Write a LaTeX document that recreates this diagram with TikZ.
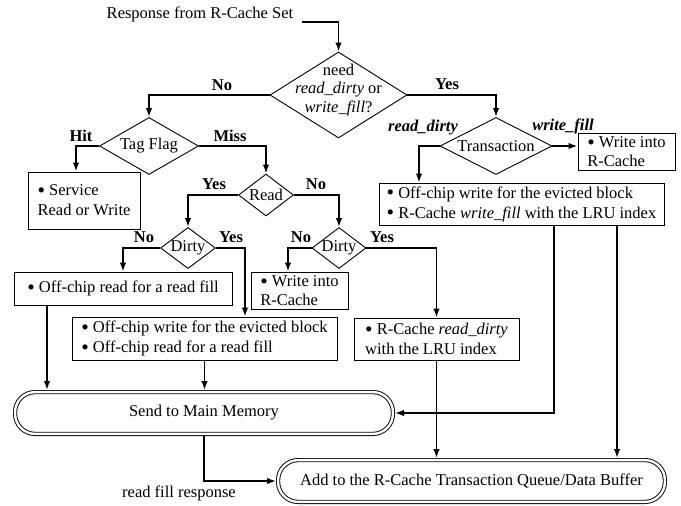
\documentclass[tikz,border=0pt]{standalone}
\usepackage{fontspec}
\setmainfont{Liberation Serif}
\usetikzlibrary{shapes.geometric,arrows.meta,calc}
\newcommand{\bul}{\raisebox{-0.09em}{\scalebox{1.3}{\textbullet}}\ }
\begin{document}
\begin{tikzpicture}[x=1pt,y=-1pt,
  every node/.style={font=\fontsize{16.5}{19}\selectfont, inner sep=0pt},
  dia/.style={draw, diamond, line width=0.9pt, inner sep=0pt},
  box/.style={draw, rectangle, line width=1pt, align=left, font=\fontsize{16.5}{20}\selectfont},
  term/.style={draw, rectangle, rounded corners=20pt, double, line width=0.9pt, double distance=2.4pt, outer sep=2.1pt},
  arr/.style={line width=1.6pt, -{Latex[length=9pt,width=6.5pt]}},
  lbl/.style={font=\fontsize{16.5}{19}\selectfont\bfseries},
  ilbl/.style={font=\fontsize{16.5}{19}\selectfont\bfseries\itshape},
]
\useasboundingbox (0,0) rectangle (681,506);

% text and decisions
\node (resp) at (200,14) {Response from R-Cache Set};
\coordinate (rs) at (302,22);
\node[dia, minimum width=137pt, minimum height=86pt] (d1) at (338.5,95) {};
\node[align=center, font=\fontsize{16.5}{18.5}\selectfont] (d1t) at (338.5,90) {need\\\textit{read\_dirty} or\\\textit{write\_fill}?};
\node[dia, minimum width=99pt, minimum height=57pt] (d2) at (149,146) {};
\node (d2t) at (d2) {Tag Flag};
\node[dia, minimum width=112pt, minimum height=57pt] (d3) at (496,146) {};
\node (d3t) at (d3) {Transaction};
\node[dia, minimum width=55pt, minimum height=42pt] (d4) at (266,195) {};
\node (d4t) at (d4) {Read};
\node[dia, minimum width=55pt, minimum height=41pt] (d5) at (188,248) {};
\node (d5t) at (d5) {Dirty};
\node[dia, minimum width=54pt, minimum height=41pt] (d6) at (339,248) {};
\node (d6t) at (d6) {Dirty};

% boxes
\node[box, minimum width=112pt, minimum height=57pt] (b1) at (84,200.5) {\bul Service\\Read or Write};
\node[box, minimum width=218pt, minimum height=33pt] (b2) at (123,288.5) {\bul Off-chip read for a read fill};
\node[box, minimum width=97pt, minimum height=37pt, font=\fontsize{16.5}{18.5}\selectfont] (b3) at (299.5,290.5) {\bul Write into\\R-Cache};
\node[box, minimum width=265pt, minimum height=43pt] (b4) at (204.5,338.5) {\bul Off-chip write for the evicted block\\\bul Off-chip read for a read fill};
\node[box, minimum width=165pt, minimum height=42pt] (b5) at (436.5,339) {\bul R-Cache \textit{read\_dirty}\\with the LRU index};
\node[box, minimum width=285pt, minimum height=42pt] (b6) at (521.5,204) {\bul Off-chip write for the evicted block\\\bul R-Cache \textit{write\_fill} with the LRU index};
\node[box, minimum width=97pt, minimum height=37pt, font=\fontsize{16.5}{18.5}\selectfont] (b7) at (626.5,151.5) {\bul Write into\\R-Cache};
\node[term, minimum width=377.8pt, minimum height=41.8pt] (s1) at (204,413) {Send to Main Memory};
\node[term, minimum width=386.8pt, minimum height=41.8pt] (s2) at (471.5,481) {Add to the R-Cache Transaction Queue/Data Buffer};
\node (rfr) at (179,493) {read fill response};

% labels
\node[lbl] (lno1) at (222,85) {No};
\node[lbl] (lyes1) at (447,84) {Yes};
\node[lbl] (lhit) at (81,136) {Hit};
\node[lbl] (lmiss) at (230,136) {Miss};
\node[ilbl] (lrd) at (423,128) {read\_dirty};
\node[ilbl] (lwf) at (563,126) {write\_fill};
\node[lbl] (lyes2) at (214,184) {Yes};
\node[lbl] (lno2) at (316,184) {No};
\node[lbl] (lno3) at (144,237) {No};
\node[lbl] (lyes3) at (231,237) {Yes};
\node[lbl] (lno4) at (301,237) {No};
\node[lbl] (lyes4) at (382,237) {Yes};

% connectors
\draw[arr] (rs) -| (d1.north);
\draw[arr] (d1.west) -| (d2.north);
\draw[arr] (d1.east) -| (d3.north);
\draw[arr] (d2.west) -| ([xshift=-8pt]b1.north);
\draw[arr] (d2.east) -| (d4.north);
\draw[arr] (d3.west) -| ([xshift=-102.5pt]b6.north);
\draw[arr] (d3.east) -- (d3.east -| b7.west);
\draw[arr] (d4.west) -| (d5.north);
\draw[arr] (d4.east) -| (d6.north);
\draw[arr] (d5.west) -| (b2.north);
\draw[arr] (d5.east) -| ([xshift=40.5pt]b4.north);
\draw[arr] (d6.west) -| ([xshift=-11.5pt]b3.north);
\draw[arr] (d6.east) -| (b5.north);
\coordinate (p1) at ([xshift=-76pt]b2.south);
\draw[arr] (p1) -- (p1 |- s1.north);
\draw[arr] (b4.south) -- (b4.south |- s1.north);
\draw[arr] (s1.south) |- (s2.west);
\draw[arr] (b5.south) -- (b5.south |- s2.north);
\coordinate (p2) at ([xshift=32.5pt]b6.south);
\coordinate (p3) at ([xshift=95.5pt]b6.south);
\draw[arr] (p2) |- (s1.east);
\draw[arr] (p3) -- (p3 |- s2.north);
\end{tikzpicture}
\end{document}
